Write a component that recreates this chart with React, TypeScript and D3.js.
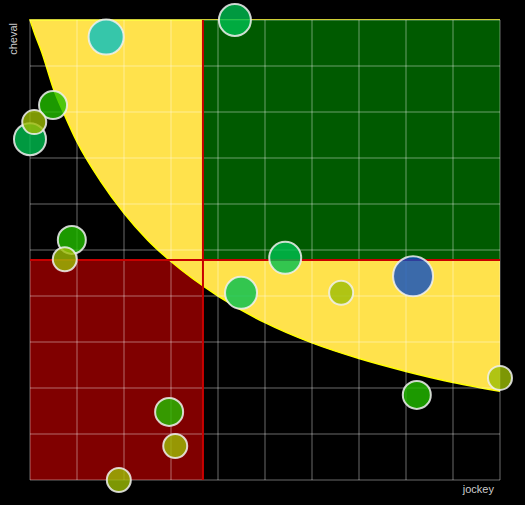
import React from 'react';
import * as d3 from 'd3';

const W = 525;
const H = 505;

// axis domain and grid ticks
const xDomain = [0, 10];
const yDomain = [0, 10];
const gridTicks = [0, 1, 2, 3, 4, 5, 6, 7, 8, 9, 10];

// quadrant thresholds
const xThreshold = 3.68;
const yThreshold = 4.78;

// boundary curve
const curveX = [0, 0.1, 0.25, 0.5, 0.75, 1, 1.5, 2, 2.5, 3, 4, 5, 6, 7, 8, 9, 10];
const curveY = [10, 9.7, 9.3, 8.5, 7.9, 7.35, 6.5, 5.8, 5.22, 4.75, 4.0, 3.42, 2.98, 2.64, 2.36, 2.12, 1.93];

// bubbles
const bubbleX = [1.62, 4.36, 0.49, 0.09, 0, 0.89, 0.74, 4.49, 5.43, 6.62, 8.15, 8.23, 10, 2.96, 3.09, 1.89];
const bubbleY = [9.63, 10.0, 8.15, 7.78, 7.41, 5.22, 4.8, 4.07, 4.83, 4.07, 4.43, 1.85, 2.22, 1.48, 0.74, 0];
const bubbleSize = [77, 64, 49, 36, 64, 49, 36, 64, 64, 36, 100, 49, 36, 49, 36, 36];
const bubbleGroup = ['teal', 'bright', 'green', 'olive', 'bright', 'green', 'olive', 'bright', 'bright', 'olive', 'blue', 'green', 'olive', 'green', 'olive', 'olive'];

const groupNames = ['olive', 'green', 'bright', 'teal', 'blue'];
const groupColors = ['#9cbd05', '#23bf00', '#00bf50', '#04bfc2', '#0a4cc2'];

export default function App() {
  const margin = { left: 30, right: 25, top: 20, bottom: 25 };
  const x = d3.scaleLinear().domain(xDomain).range([margin.left, W - margin.right]);
  const y = d3.scaleLinear().domain(yDomain).range([H - margin.bottom, margin.top]);
  const r = d3.scaleSqrt().domain([0, 100]).range([0, 20]);
  const color = d3.scaleOrdinal<string, string>().domain(groupNames).range(groupColors);

  const pts: [number, number][] = curveX.map((v, i) => [v, curveY[i]]);
  const line = d3
    .line<[number, number]>()
    .x((d) => x(d[0]))
    .y((d) => y(d[1]))
    .curve(d3.curveMonotoneX);
  const curvePath = line(pts) as string;
  const areaPath =
    curvePath +
    `L${x(xDomain[1])},${y(yDomain[1])}L${x(xDomain[0])},${y(yDomain[1])}Z`;
  const strokePath = curvePath.replace(/^M[^A-Z]*/, '') ;

  const bubbles = bubbleX
    .map((bx, i) => ({ x: bx, y: bubbleY[i], s: bubbleSize[i], g: bubbleGroup[i] }))
    .sort((a, b) => b.s - a.s);

  const x0 = x(xDomain[0]);
  const x1 = x(xDomain[1]);
  const y0 = y(yDomain[0]);
  const y1 = y(yDomain[1]);

  return (
    <div style={{ position: 'fixed', left: 0, top: 0, right: 0, bottom: 0, background: '#000' }}>
      <svg width={W} height={H} style={{ position: 'absolute', left: 0, top: 0, display: 'block' }}>
        <rect x={0} y={0} width={W} height={H} fill="#000" />
        {/* bottom-left quadrant */}
        <rect x={x0} y={y(yThreshold)} width={x(xThreshold) - x0} height={y0 - y(yThreshold)} fill="#800000" />
        {/* yellow area */}
        <path d={areaPath} fill="#ffe24c" />
        <path d={`M${x1},${y1}L${x0},${y1}` + 'L' + curvePath.slice(1)} fill="none" stroke="#ffff00" strokeWidth={1.5} />
        {/* top-right quadrant */}
        <rect x={x(xThreshold)} y={y1} width={x1 - x(xThreshold)} height={y(yThreshold) - y1} fill="#005a00" />
        {/* grid */}
        <g stroke="#ffffff" strokeOpacity={0.28} strokeWidth={1.5}>
          {gridTicks.map((t) => (
            <line key={'v' + t} x1={x(t)} x2={x(t)} y1={y1} y2={y0} />
          ))}
          {gridTicks.map((t) => (
            <line key={'h' + t} x1={x0} x2={x1} y1={y(t)} y2={y(t)} />
          ))}
        </g>
        {/* threshold lines */}
        <line x1={x(xThreshold)} x2={x(xThreshold)} y1={y1} y2={y0} stroke="#c80000" strokeWidth={2} />
        <line x1={x0} x2={x1} y1={y(yThreshold)} y2={y(yThreshold)} stroke="#c80000" strokeWidth={2} />
        {/* bubbles */}
        <g>
          {bubbles.map((b, i) => (
            <circle
              key={i}
              cx={x(b.x)}
              cy={y(b.y)}
              r={r(b.s)}
              fill={color(b.g)}
              fillOpacity={0.8}
              stroke="#f0f0f0"
              strokeOpacity={0.85}
              strokeWidth={2}
            />
          ))}
        </g>
        {/* axis labels */}
        <text
          transform={`translate(17,${y1 + 3}) rotate(-90)`}
          textAnchor="end"
          fontFamily="'Liberation Sans', Arial, sans-serif"
          fontSize={11}
          fill="#cccccc"
        >
          cheval
        </text>
        <text
          x={x1 - 6}
          y={493}
          textAnchor="end"
          fontFamily="'Liberation Sans', Arial, sans-serif"
          fontSize={11}
          fill="#cccccc"
        >
          jockey
        </text>
      </svg>
    </div>
  );
}
